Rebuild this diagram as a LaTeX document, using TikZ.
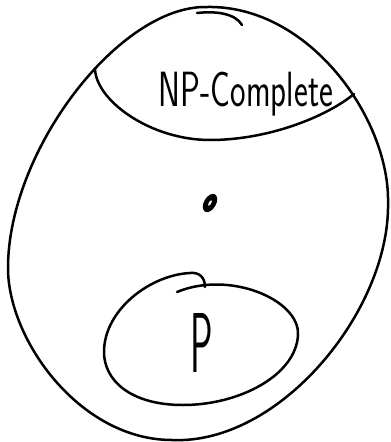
\documentclass[tikz,border=0pt]{standalone}
\usepackage{graphicx}
\tikzset{
  sketch/.style={line width=2.5pt, line cap=round, line join=round, draw=black},
  setlbl/.style={font=\sffamily, inner sep=0pt, anchor=base},
}

\begin{document}
\begin{tikzpicture}[x=1pt, y=-1pt]
  % page frame, same size as the reference
  \useasboundingbox (0,0) rectangle (391,442);

  % outer class (NP)
  \draw[sketch] (207,7) .. controls (310,5) and (390,120) .. (388,203)
    .. controls (390,310) and (280,445) .. (172,440)
    .. controls (80,440) and (8,340) .. (8,268)
    .. controls (8,150) and (120,5) .. (207,7);
  \draw[sketch] (197,13) .. controls (215,11) and (235,13) .. (242,25);

  % NP-complete cap
  \draw[sketch] (95,68) .. controls (95,100) and (150,140) .. (210,140)
    .. controls (268,140) and (326,117) .. (354,94);
  \node[setlbl] (npc) at (246,106) {\fontsize{33}{33}\selectfont\scalebox{1}[1.5]{NP-Complete}};

  % the blob in the middle
  \fill[rotate around={-30:(210,203)}] (210,203) ellipse [x radius=6pt, y radius=10pt];
  \fill[white, rotate around={-30:(210,203)}] (210,203) ellipse [x radius=1.2pt, y radius=3pt];

  % inner class (P)
  \draw[sketch] (177,292) .. controls (230,270) and (300,300) .. (298,335)
    .. controls (296,375) and (240,405) .. (183,405)
    .. controls (130,405) and (104,380) .. (104,352)
    .. controls (104,310) and (150,275) .. (190,273)
    .. controls (200,272) and (205,278) .. (205,287);
  \node[setlbl] (p) at (202,372) {\fontsize{50}{50}\selectfont\scalebox{0.75}[1.7]{P}};
\end{tikzpicture}
\end{document}
